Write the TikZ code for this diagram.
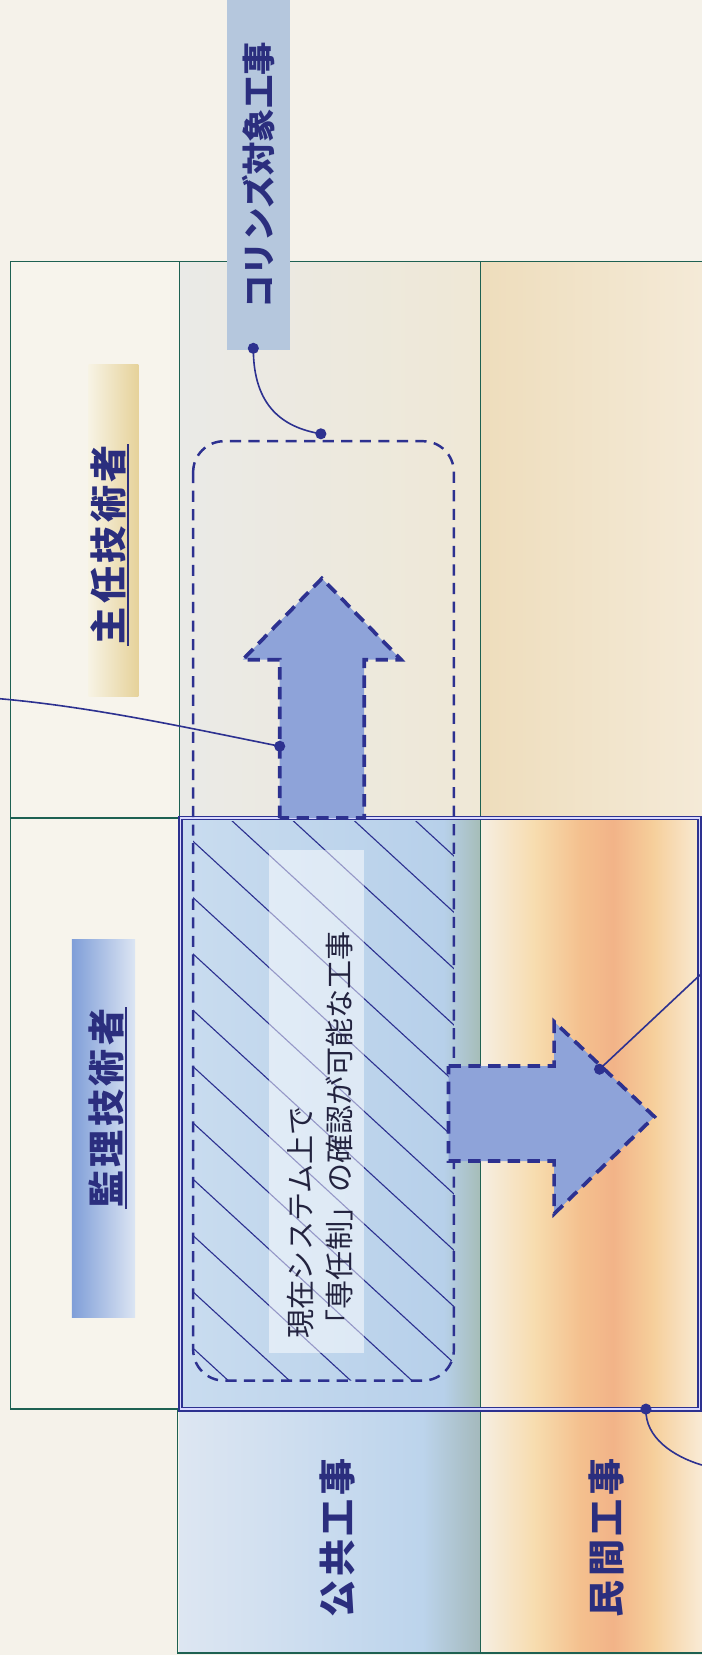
\documentclass[tikz,border=0pt]{standalone}
\usepackage{fontspec}
\newfontfamily\jp{Noto Sans CJK JP}
\newfontfamily\jpl[LetterSpace=9]{Noto Sans CJK JP}
\usetikzlibrary{calc}
\definecolor{navy}{HTML}{2D3190}
\definecolor{gridc}{HTML}{1E6152}
\definecolor{txtc}{HTML}{2B2E7E}
\definecolor{ctxt}{HTML}{23233F}
\definecolor{afill}{HTML}{8EA3D9}
\definecolor{paper}{HTML}{F5F2EA}
\definecolor{colz}{HTML}{F7F4EC}
\definecolor{boxc}{HTML}{B5C7DD}
\tikzset{
  gridl/.style={draw=gridc, line width=1.1pt},
  frame/.style={draw=navy, line width=1.5pt, double=white!85!blue, double distance=1pt},
  dashbox/.style={draw=navy, line width=2pt, dash pattern=on 9pt off 6pt},
  arrowshape/.style={fill=afill, draw=navy, line width=3pt, dash pattern=on 10pt off 6pt, line join=miter},
  hatch/.style={draw=navy, line width=0.9pt},
  dot/.style={circle, fill=navy, inner sep=0pt, minimum size=9pt},
  conn/.style={draw=navy, line width=1.3pt},
  bigl/.style={text=txtc, inner sep=1pt, font=\jpl\bfseries\fontsize{30}{36}\selectfont},
}
\begin{document}
\begin{tikzpicture}[x=0.03cm,y=-0.03cm]
\useasboundingbox (0,0) rectangle (665,1568);
\fill[paper] (0,0) rectangle (665,1568);
% cells
\fill[colz] (10,248) rectangle (170,1335);
\shade[left color={rgb,255:red,234;green,234;blue,231}, right color={rgb,255:red,239;green,232;blue,214}] (170,248) rectangle (455,775);
\shade[left color={rgb,255:red,238;green,221;blue,188}, right color={rgb,255:red,244;green,234;blue,215}] (455,248) rectangle (665,775);
% row1 col1
\shade[left color={rgb,255:red,201;green,220;blue,239}, right color={rgb,255:red,183;green,208;blue,234}] (170,775) rectangle (420.5,1335);
\shade[left color={rgb,255:red,183;green,208;blue,234}, right color={rgb,255:red,166;green,189;blue,184}] (420,775) rectangle (455,1335);
% row2 col1
\shade[left color={rgb,255:red,221;green,230;blue,242}, right color={rgb,255:red,188;green,212;blue,236}] (170,1335) rectangle (400.5,1566);
\shade[left color={rgb,255:red,188;green,212;blue,236}, right color={rgb,255:red,164;green,185;blue,188}] (400,1335) rectangle (455,1566);
% orange columns
\shade[left color={rgb,255:red,246;green,238;blue,226}, right color={rgb,255:red,247;green,220;blue,174}] (455,775) rectangle (507.5,1566);
\shade[left color={rgb,255:red,247;green,220;blue,174}, right color={rgb,255:red,244;green,192;blue,142}] (507,775) rectangle (550.5,1566);
\shade[left color={rgb,255:red,244;green,192;blue,142}, right color={rgb,255:red,242;green,179;blue,136}] (550,775) rectangle (581.5,1566);
\shade[left color={rgb,255:red,242;green,179;blue,136}, right color={rgb,255:red,246;green,207;blue,155}] (581,775) rectangle (619.5,1566);
\shade[left color={rgb,255:red,246;green,207;blue,155}, right color={rgb,255:red,249;green,235;blue,214}] (619,775) rectangle (665,1566);
% label bars
\shade[left color={rgb,255:red,247;green,243;blue,228}, right color={rgb,255:red,230;green,210;blue,154}] (84,345) rectangle (131,660);
\shade[left color={rgb,255:red,127;green,158;blue,216}, right color={rgb,255:red,220;green,229;blue,243}] (68,890) rectangle (128,1248);
% grid lines
\draw[gridl] (10,248) rectangle (170,1335);
\draw[gridl] (10,775) -- (665,775);
\draw[gridl] (170,248) -- (665,248);
\draw[gridl] (455,248) -- (455,1566);
\draw[gridl] (168,1335) -- (168,1566) -- (665,1566);
% frame
\draw[frame] (171,775) rectangle (663,1335);
% hatch
\begin{scope}
  \clip (172,778) rectangle (455,1334);
  \clip[rounded corners=25pt] (183,418) rectangle (430,1308);
  \foreach \k in {-15,...,6} {
    \draw[hatch] ({218+58*\k-1000},{776-920}) -- ++(2000,1840);
  }
\end{scope}
% light strip
\fill[white, opacity=0.5] (255,805) rectangle (345,1282);
% dashed region
\draw[dashbox, rounded corners=25pt] (183,418) rectangle (430,1308);
% arrows
\draw[arrowshape] (265,775) -- (265,625) -- (230,625) -- (305,548) -- (380,625) -- (345,625) -- (345,775) -- cycle;
\draw[arrowshape] (425,1010) -- (525,1010) -- (525,968) -- (620,1058) -- (525,1150) -- (525,1100) -- (425,1100) -- cycle;
% label box
\node[rotate=90, fill=boxc, minimum width=9.96cm, minimum height=1.8cm, inner sep=0pt, text=txtc, font=\jp\bfseries\fontsize{27}{32}\selectfont] (cbox) at (245,166) {コリンズ対象工事};
% labels
\node[bigl, rotate=90] (shunin) at (103,516) {主任技術者};
\draw[txtc, line width=1.4pt] (shunin.south west) -- (shunin.south east);
\node[bigl, rotate=90] (kanri) at (101,1050) {監理技術者};
\draw[txtc, line width=1.4pt] (kanri.south west) -- (kanri.south east);
\node[bigl, rotate=90] (kokyo) at (320,1457) {公共工事};
\node[bigl, rotate=90] (minkan) at (575,1457) {民間工事};
\node[rotate=90, anchor=west, align=left, inner sep=0pt, text=ctxt, font=\jp\fontsize{23.5}{31.5}\selectfont] (ctext) at (303,1268) {現在システム上で\\「専任制」の確認が可能な工事};
% dots and connectors
\node[dot] (d1) at (240,330) {};
\node[dot] (d2) at (304,411) {};
\node[dot] (d3) at (265,707) {};
\coordinate (e3) at (0,662);
\node[dot] (d4) at (568,1013) {};
\coordinate (e4) at (665,922);
\node[dot] (d5) at (612,1335) {};
\coordinate (e5) at (665,1388);
\draw[conn] (d1.center) .. controls (240,385) and (268,405) .. (d2.center);
\draw[conn] (e3) .. controls (90,670) and (180,690) .. (d3.center);
\draw[conn] (d4.center) -- (e4);
\draw[conn] (d5.center) .. controls (611,1362) and (638,1380) .. (e5);
\end{tikzpicture}
\end{document}
